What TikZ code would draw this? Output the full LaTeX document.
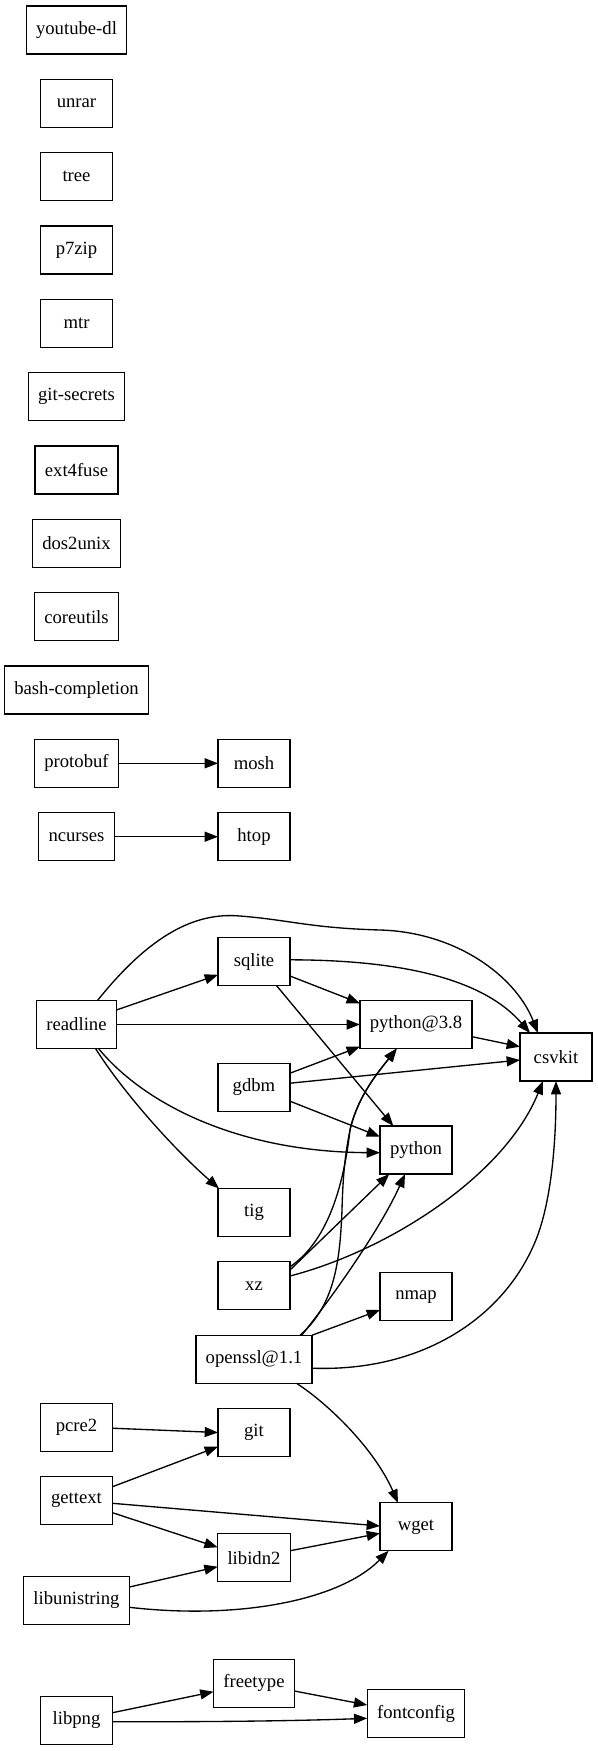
\documentclass[tikz,border=0pt]{standalone}
\usepackage{fontspec}
\setmainfont{Liberation Serif}
\usetikzlibrary{arrows.meta,calc}
\begin{document}
\begin{tikzpicture}[x=0.75pt,y=-0.75pt,
  pkg/.style={draw, line width=1pt, minimum width=54pt, minimum height=36pt,
    inner xsep=7.4pt, inner ysep=0pt, outer sep=0pt, font=\fontsize{14}{16}\selectfont},
  dep/.style={line width=1pt, -{Triangle[length=10pt,width=7.5pt]}}]
\fill[white] (0,0) rectangle (597,1751);
\useasboundingbox (0,0) rectangle (597,1751);
% rank 0 isolated
\node[pkg] (youtubedl) at (76.5,30) {youtube-dl};
\node[pkg] (unrar) at (76.5,103.3) {unrar};
\node[pkg] (tree) at (76.5,176.7) {tree};
\node[pkg] (ptzip) at (76.5,250) {p7zip};
\node[pkg] (mtr) at (76.5,323.3) {mtr};
\node[pkg] (gitsecrets) at (76.5,396.7) {git-secrets};
\node[pkg] (extfuse) at (76.5,470) {ext4fuse};
\node[pkg] (dosunix) at (76.5,543.3) {dos2unix};
\node[pkg] (coreutils) at (76.5,616.7) {coreutils};
\node[pkg] (bashcomp) at (76.5,690) {bash-completion};
\node[pkg] (protobuf) at (76.5,763.3) {protobuf};
\node[pkg] (mosh) at (254,763.3) {mosh};
\node[pkg] (ncurses) at (76.5,836.7) {ncurses};
\node[pkg] (htop) at (254,836.7) {htop};
% main cluster
\node[pkg] (readline) at (76.5,1024.5) {readline};
\node[pkg] (sqlite) at (254,961.8) {sqlite};
\node[pkg] (pyeight) at (416,1024.5) {python@3.8};
\node[pkg] (csvkit) at (556,1057) {csvkit};
\node[pkg] (gdbm) at (254,1087.2) {gdbm};
\node[pkg] (python) at (416,1150) {python};
\node[pkg] (tig) at (254,1212.5) {tig};
\node[pkg] (xz) at (254,1285.8) {xz};
\node[pkg] (nmap) at (416,1296.7) {nmap};
\node[pkg] (openssl) at (254,1359.2) {openssl@1.1};
\node[pkg] (pcre) at (76.5,1427.2) {pcre2};
\node[pkg] (git) at (254,1432.5) {git};
\node[pkg] (gettext) at (76.5,1500.5) {gettext};
\node[pkg] (wget) at (416,1526.8) {wget};
\node[pkg] (libidn) at (254,1557.8) {libidn2};
\node[pkg] (libunistring) at (76.5,1600.5) {libunistring};
\node[pkg] (freetype) at (254,1683.2) {freetype};
\node[pkg] (libpng) at (76.5,1720.5) {libpng};
\node[pkg] (fontconfig) at (416,1713.7) {fontconfig};
% edges
\draw[dep] (protobuf) -- (mosh);
\draw[dep] (ncurses) -- (htop);
\draw[dep] ($(readline.east)+(0,-14.5)$) -- ($(sqlite.west)+(0,13)$);
\draw[dep] (readline) -- (pyeight);
\draw[dep] ($(readline.north)+(21,0)$) .. controls (150,935) and (195,912) .. (240,916)
  .. controls (290,920) and (310,928) .. (380,930)
  .. controls (455,932) and (515,975) .. ($(csvkit.north)+(-18,0)$);
\draw[dep] ($(readline.south)+(22,0)$) .. controls (145,1105) and (240,1152) .. ($(python.west)+(0,2.7)$);
\draw[dep] ($(readline.south)+(19,0)$) .. controls (125,1095) and (175,1150) .. ($(tig.north west)+(1,0)$);
\draw[dep] ($(sqlite.east)+(0,14.2)$) -- ($(pyeight.west)+(0,-21.2)$);
\draw[dep] ($(sqlite.east)+(0,-2)$) .. controls (390,960) and (480,975) .. ($(csvkit.north)+(-26,0)$);
\draw[dep] ($(sqlite.south)+(22.7,0)$) -- ($(python.north)+(-22.7,0)$);
\draw[dep] ($(pyeight.east)+(0,12.2)$) -- ($(csvkit.west)+(0,-10.3)$);
\draw[dep] ($(gdbm.east)+(0,-14)$) -- ($(pyeight.west)+(0,22.2)$);
\draw[dep] ($(gdbm.east)+(0,-4)$) -- ($(csvkit.west)+(0,3)$);
\draw[dep] ($(gdbm.east)+(0,14)$) -- ($(python.west)+(0,-13.3)$);
\draw[dep] ($(xz.north east)+(0,5)$) .. controls (322,1245) and (342,1200) .. (350,1130)
  .. controls (358,1095) and (380,1070) .. ($(pyeight.south)+(-19.3,0)$);
\draw[dep] ($(openssl.north)+(46,0)$) .. controls (335,1305) and (340,1260) .. (342,1210)
  .. controls (343,1170) and (346,1150) .. (350,1130)
  .. controls (358,1095) and (380,1070) .. ($(pyeight.south)+(-19.3,0)$);
\draw[dep] ($(xz.east)+(0,-15.8)$) -- ($(python.south)+(-26.7,0)$);
\draw[dep] ($(openssl.north)+(47.7,0)$) .. controls (330,1300) and (380,1230) .. ($(python.south)+(-11,0)$);
\draw[dep] ($(xz.east)+(0,-9.8)$) .. controls (390,1250) and (505,1175) .. ($(csvkit.south)+(-13,0)$);
\draw[dep] (openssl.north east) -- ($(nmap.west)+(0,13.3)$);
\draw[dep] ($(openssl.east)+(0,9)$) .. controls (420,1372) and (500,1320) .. (533,1246.7)
  .. controls (550,1210) and (556,1150) .. (csvkit.south);
\draw[dep] ($(openssl.south)+(42.4,0)$) .. controls (330,1405) and (375,1450) .. ($(wget.north)+(-18,0)$);
\draw[dep] ($(pcre.east)+(0,1)$) -- (git.west);
\draw[dep] ($(gettext.east)+(0,-13.8)$) -- ($(git.west)+(0,14.2)$);
\draw[dep] ($(gettext.east)+(0,2.8)$) -- ($(wget.west)+(0,-0.8)$);
\draw[dep] ($(gettext.east)+(0,12.2)$) -- ($(libidn.west)+(0,-10.5)$);
\draw[dep] ($(libidn.east)+(0,-7.1)$) -- ($(wget.west)+(0,6.5)$);
\draw[dep] ($(libunistring.east)+(0,-13.5)$) -- ($(libidn.west)+(0,8.9)$);
\draw[dep] ($(libunistring.east)+(0,6.8)$) .. controls (240,1620) and (340,1600) .. ($(wget.south)+(-27.4,0)$);
\draw[dep] ($(libpng.east)+(0,-7.8)$) -- ($(freetype.west)+(0,8.5)$);
\draw[dep] ($(libpng.east)+(0,1.2)$) .. controls (250,1722) and (320,1720) .. ($(fontconfig.west)+(0,4.6)$);
\draw[dep] ($(freetype.east)+(0,7.8)$) -- ($(fontconfig.west)+(0,-8.7)$);
\end{tikzpicture}
\end{document}
